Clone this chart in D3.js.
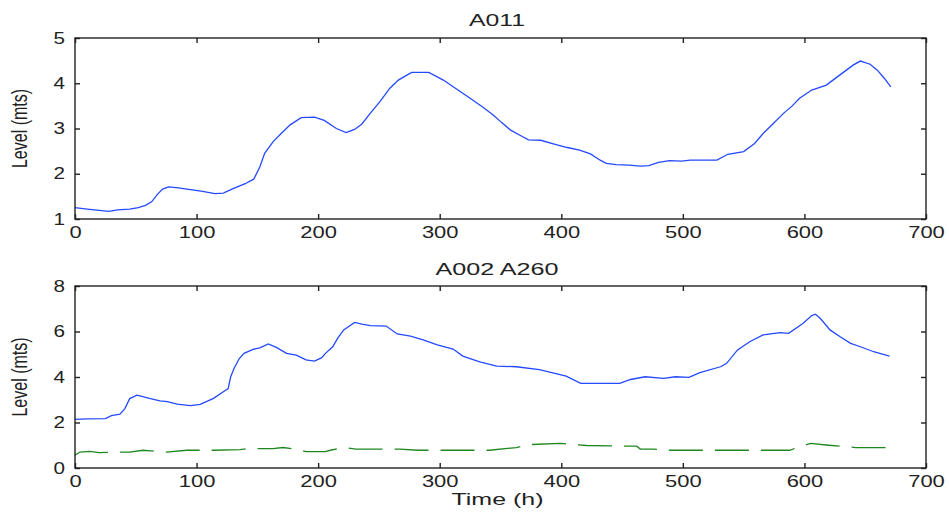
<!DOCTYPE html>
<html><head><meta charset="utf-8">
<script src="https://cdn.jsdelivr.net/npm/d3@7"></script>
<style>body{margin:0;background:#fff}svg{display:block}text{font-family:"Liberation Sans",Arial,sans-serif;fill:#222}</style>
</head><body><svg id="c" width="949" height="516"></svg>
<script>
// ---- data ----
const xTicks = [0,100,200,300,400,500,600,700];
const topYTicks = [1,2,3,4,5];
const botYTicks = [0,2,4,6,8];
const topTitle = "A011";
const botTitle = "A002 A260";
const yLabel = "Level (mts)";
const xLabel = "Time (h)";

const a011T = [0,10,20,28,35,45,52,58,63,68,72,77,85,95,105,115,122,130,140,147,152,156,163,170,177,186,197,205,215,223,230,236,243,251,259,266,273,277,291,303,315,325,335,344,351,358,366,373,383,395,405,415,424,432,437,445,456,465,472,480,489,499,506,528,537,550,559,566,574,583,590,596,606,618,629,640,646,654,660,666,671];
const a011V = [1.25,1.22,1.19,1.17,1.20,1.22,1.25,1.30,1.38,1.55,1.66,1.71,1.69,1.65,1.61,1.56,1.57,1.67,1.78,1.88,2.15,2.45,2.71,2.90,3.08,3.24,3.25,3.18,3.00,2.91,2.98,3.10,3.34,3.60,3.89,4.07,4.18,4.24,4.24,4.07,3.85,3.67,3.48,3.30,3.13,2.97,2.85,2.75,2.74,2.65,2.58,2.52,2.44,2.30,2.23,2.20,2.19,2.17,2.18,2.25,2.29,2.28,2.30,2.30,2.43,2.49,2.67,2.89,3.10,3.34,3.50,3.67,3.85,3.96,4.18,4.40,4.49,4.42,4.29,4.10,3.92];

const a002T = [0,10,25,30,37,41,45,51,55,62,70,76,84,95,103,114,122,126,128,131,135,139,147,152,159,166,174,182,190,197,203,206,212,216,221,230,236,243,256,265,276,287,298,311,319,333,347,363,382,404,416,432,448,457,469,484,494,505,514,531,536,545,555,566,580,587,599,606,609,613,621,630,638,646,657,670];
const a002V = [2.14,2.16,2.17,2.30,2.37,2.61,3.05,3.20,3.15,3.05,2.95,2.92,2.81,2.74,2.80,3.06,3.35,3.49,4.00,4.40,4.80,5.04,5.22,5.28,5.45,5.29,5.04,4.96,4.75,4.70,4.85,5.04,5.33,5.70,6.07,6.40,6.32,6.26,6.24,5.89,5.80,5.62,5.41,5.23,4.92,4.67,4.48,4.45,4.32,4.04,3.72,3.72,3.72,3.89,4.01,3.94,4.01,3.98,4.19,4.45,4.60,5.19,5.55,5.85,5.95,5.92,6.36,6.70,6.76,6.58,6.07,5.75,5.48,5.33,5.11,4.92];

const a260T = [0,4,12,20,45,56,62,75,92,114,136,141,163,171,179,190,206,210,221,231,267,282,341,363,374,399,421,456,462,465,476,486,588,593,605,620,631,642,670];
const a260V = [0.56,0.70,0.73,0.68,0.70,0.78,0.75,0.70,0.78,0.78,0.81,0.85,0.85,0.90,0.85,0.72,0.72,0.78,0.90,0.83,0.83,0.78,0.78,0.90,1.03,1.08,0.99,0.96,0.96,0.83,0.83,0.78,0.78,0.88,1.08,1.00,0.95,0.90,0.90];

// ---- drawing ----
const svg = d3.select("#c");
svg.append("rect").attr("width",949).attr("height",516).attr("fill","#fff");
const X0 = 75, X1 = 926;
const x = d3.scaleLinear().domain([0,700]).range([X0,X1]);

function stretch(sel, perChar){
  sel.each(function(){
    const t = this.textContent;
    d3.select(this).attr("textLength", t.length*perChar).attr("lengthAdjust","spacingAndGlyphs");
  });
}

function panel(y0, y1, yDomain, yTicks, series, title, titleW, titleY, showXLabel){
  const y = d3.scaleLinear().domain(yDomain).range([y1,y0]);
  const g = svg.append("g");
  const line = d3.line().x(d=>x(d[0])).y(d=>y(d[1]));
  series.forEach(s=>{
    g.append("path").datum(d3.zip(s.t, s.v)).attr("d", line)
      .attr("fill","none").attr("stroke", s.color).attr("stroke-width",1.3)
      .attr("stroke-dasharray", s.dash || null);
  });
  const axB = g.append("g").attr("transform",`translate(0,${y1})`)
    .call(d3.axisBottom(x).tickValues(xTicks).tickSizeInner(-5).tickSizeOuter(0).tickPadding(8).tickFormat(d3.format("d")));
  const axT = g.append("g").attr("transform",`translate(0,${y0})`)
    .call(d3.axisTop(x).tickValues(xTicks).tickSizeInner(-5).tickSizeOuter(0).tickFormat(""));
  const axL = g.append("g").attr("transform",`translate(${X0},0)`)
    .call(d3.axisLeft(y).tickValues(yTicks).tickSizeInner(-5).tickSizeOuter(0).tickPadding(10).tickFormat(d3.format("d")));
  const axR = g.append("g").attr("transform",`translate(${X1},0)`)
    .call(d3.axisRight(y).tickValues(yTicks).tickSizeInner(-5).tickSizeOuter(0).tickFormat(""));
  [axB,axT,axL,axR].forEach(a=>{
    a.select(".domain").remove();
    a.selectAll("line").attr("stroke","#222").attr("stroke-width",1.4);
    a.selectAll("text").attr("font-size",16).attr("fill","#222").style("font-family","Liberation Sans, Arial, sans-serif");
  });
  axB.selectAll("text").call(stretch, 12.2);
  axL.selectAll("text").call(stretch, 11.5);
  g.append("rect").attr("x",X0).attr("y",y0).attr("width",X1-X0).attr("height",y1-y0)
    .attr("fill","none").attr("stroke","#222").attr("stroke-width",1.4);
  g.append("text").attr("x",497).attr("y",titleY).attr("text-anchor","middle").attr("font-size",16)
    .attr("textLength",titleW).attr("lengthAdjust","spacingAndGlyphs").text(title);
  g.append("text").attr("transform",`translate(27,${(y0+y1)/2}) scale(1.35,1) rotate(-90)`)
    .attr("text-anchor","middle").attr("font-size",16).text(yLabel);
  if(showXLabel){
    g.append("text").attr("x",497.5).attr("y",505).attr("text-anchor","middle").attr("font-size",16)
      .attr("textLength",92).attr("lengthAdjust","spacingAndGlyphs").text(xLabel);
  }
}

panel(38, 219, [1,5], topYTicks,
  [{t:a011T, v:a011V, color:"#2449ff"}], topTitle, 56, 26, false);
panel(286, 468, [0,8], botYTicks,
  [{t:a002T, v:a002V, color:"#2449ff"},{t:a260T, v:a260V, color:"#1f871f", dash:"34,12"}], botTitle, 123, 275, true);
</script></body></html>
